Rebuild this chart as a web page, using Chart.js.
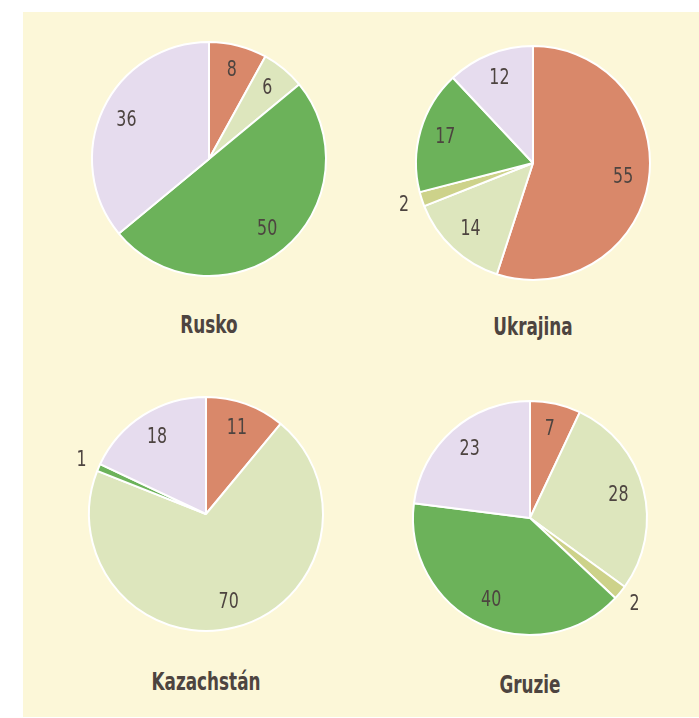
<!DOCTYPE html>
<html>
<head>
<meta charset="utf-8">
<script src="https://cdn.jsdelivr.net/npm/chart.js@4.4.1/dist/chart.umd.min.js"></script>
<style>
  body { margin: 0; background: #fff; }
  #panel { position: absolute; left: 23px; top: 12px; width: 676px; height: 705px; background: #fcf7d8; }
  .box { position: absolute; width: 300px; height: 300px; }
  .name { position: absolute; width: 300px; text-align: center; font-family: "DejaVu Sans Condensed", sans-serif;
          font-weight: bold; font-size: 24px; color: #4d4440; transform: scaleX(0.78); }
</style>
</head>
<body>
<div id="panel"></div>
<div class="box" style="left:59px; top:9px;"><canvas id="c0"></canvas></div>
<div class="box" style="left:383px; top:13px;"><canvas id="c1"></canvas></div>
<div class="box" style="left:56px; top:364px;"><canvas id="c2"></canvas></div>
<div class="box" style="left:380px; top:368px;"><canvas id="c3"></canvas></div>
<div class="name" style="left:59px; top:311px;">Rusko</div>
<div class="name" style="left:383px; top:313px;">Ukrajina</div>
<div class="name" style="left:56px; top:668px;">Kazachstán</div>
<div class="name" style="left:380px; top:671px;">Gruzie</div>
<script>
// categories in clockwise order from the top
const categories = ["A", "B", "C", "D", "E"];
const colors = ["#d9886a", "#dde6bd", "#cdd28a", "#6cb25a", "#e6dcee"];

const countries = ["Rusko", "Ukrajina", "Kazachstán", "Gruzie"];
const rusko = [8, 6, 0, 50, 36];
const ukrajina = [55, 14, 2, 17, 12];
const kazachstan = [11, 70, 0, 1, 18];
const gruzie = [7, 28, 2, 40, 23];
const series = [rusko, ukrajina, kazachstan, gruzie];

// draws the numbers, small slices get their label outside
const sliceLabels = {
    id: "sliceLabels",
    afterDatasetsDraw(chart) {
        const ctx = chart.ctx;
        const meta = chart.getDatasetMeta(0);
        const values = chart.data.datasets[0].data;
        meta.data.forEach((arc, i) => {
            const v = values[i];
            if (!v) return;
            const p = arc.getProps(["x", "y", "startAngle", "endAngle", "outerRadius"], true);
            const mid = (p.startAngle + p.endAngle) / 2;
            const r = v < 3 ? p.outerRadius * 1.16 : p.outerRadius * 0.78;
            ctx.save();
            ctx.translate(p.x + Math.cos(mid) * r, p.y + Math.sin(mid) * r);
            ctx.scale(0.8, 1);   // condensed look
            ctx.font = '22px "DejaVu Sans Condensed", sans-serif';
            ctx.fillStyle = "#4d4440";
            ctx.textAlign = "center";
            ctx.textBaseline = "middle";
            ctx.fillText(String(v), 0, 0);
            ctx.restore();
        });
    }
};

series.forEach((vals, k) => {
    new Chart(document.getElementById("c" + k), {
        type: "pie",
        data: {
            labels: categories,
            datasets: [{
                label: countries[k],
                data: vals,
                backgroundColor: colors,
                borderColor: "#ffffff",
                borderWidth: 2
            }]
        },
        options: {
            responsive: true,
            maintainAspectRatio: false,
            animation: false,
            layout: { padding: 32 },
            plugins: {
                legend: { display: false },
                tooltip: { enabled: false }
            }
        },
        plugins: [sliceLabels]
    });
});
</script>
</body>
</html>
